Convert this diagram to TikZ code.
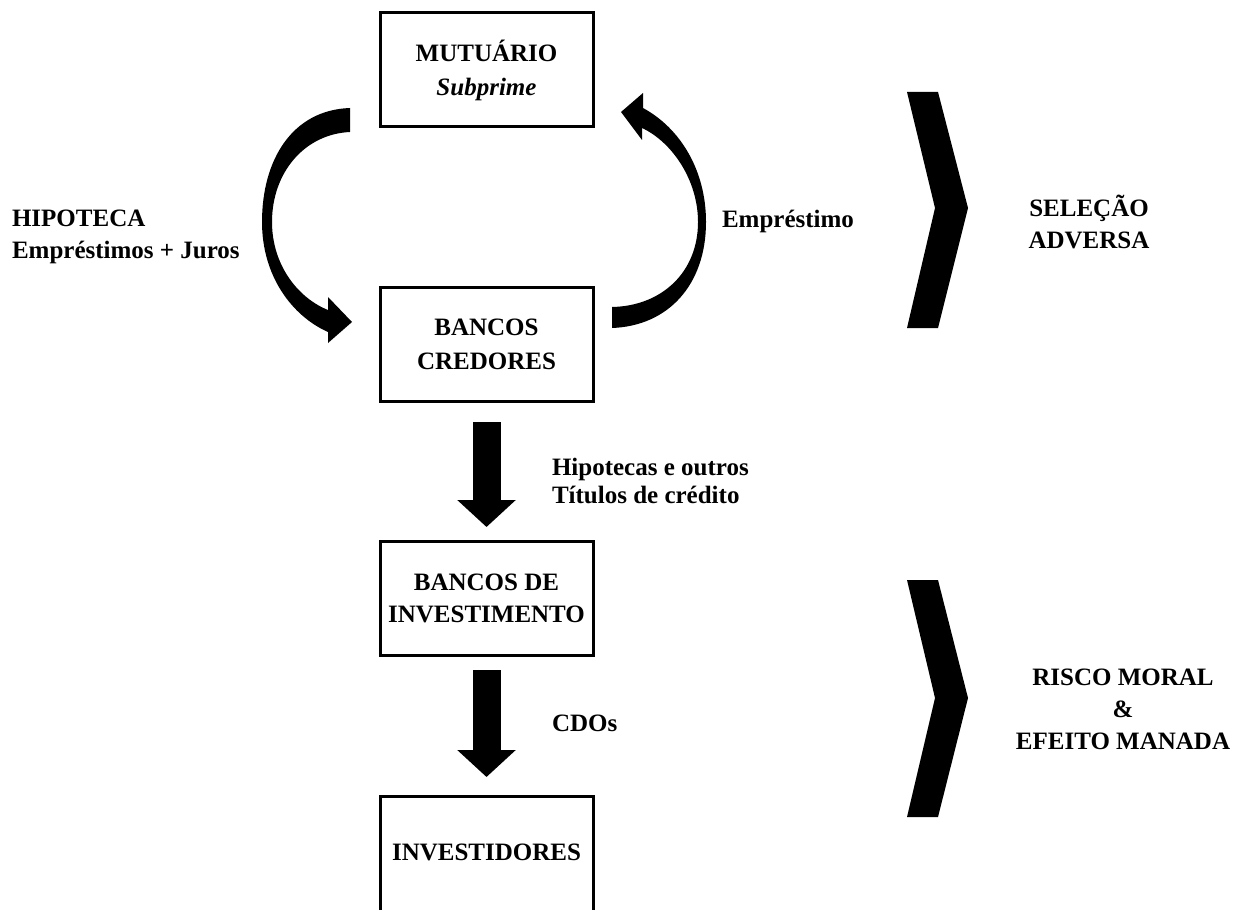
\documentclass[tikz,border=0pt]{standalone}
\usepackage{fontspec}
\setmainfont{Liberation Serif}
\usetikzlibrary{arrows.meta}
\begin{document}
\begin{tikzpicture}
    [
        x = 0.5pt, y = -0.5pt,
        every node/.style = {font=\bfseries\fontsize{12.5}{16}\selectfont,
            align=center, inner sep=0pt, outer sep=0pt},
        caixa/.style = {draw, line width=1.5pt,
            minimum width=106.5pt, minimum height=57pt},
        seta/.style = {line width=14pt,
            -{Triangle[width=28.5pt, length=13.5pt]}},
        forma/.style = {fill=black}
    ]
    \useasboundingbox (0,0) rectangle (1251,909);
    \clip (0,0) rectangle (1251,909);

    \node[caixa] (mutuario) at (486.5,70) {MUTUÁRIO\\[1pt]\textit{Subprime}};
    \node[caixa] (credores) at (486.5,344) {BANCOS\\[1pt]CREDORES};
    \node[caixa] (investimento) at (486.5,598) {BANCOS DE\\INVESTIMENTO};
    \node[caixa, minimum height=66pt] (investidores) at (486.5,862)
        {\raisebox{10pt}{INVESTIDORES}};

    \node[anchor=west, align=left] (hipoteca) at (12,237)
        {HIPOTECA\\Empréstimos + Juros};
    \node[anchor=west] (emprestimo) at (722,221) {Empréstimo};
    \node[anchor=west, align=left] (titulos) at (552,481)
        {Hipotecas e outros\\[-2pt]Títulos de crédito};
    \node[anchor=west] (cdos) at (552,723) {CDOs};
    \node (selecao) at (1089,222) {SELEÇÃO\\ADVERSA};
    \node (risco) at (1123,709) {RISCO MORAL\\\&\\EFEITO MANADA};

    \draw[seta, shorten <=10.5pt, shorten >=7pt] (credores) -- (investimento);
    \draw[seta, shorten <=7.5pt, shorten >=9.5pt] (investimento) -- (investidores);

    \fill[forma] (350,108) .. controls (292,110) and (262,160) .. (262,222)
        .. controls (262,276) and (292,316) .. (328,332)
        -- (328,343) -- (352,322) -- (328,297) -- (328,310)
        .. controls (298,298) and (272,265) .. (272,222)
        .. controls (272,172) and (305,134) .. (350,132) -- cycle;
    \fill[forma] (612,328) .. controls (668,326) and (706,285) .. (706,222)
        .. controls (706,170) and (680,128) .. (643,108)
        -- (643,93) -- (621,112) -- (642,140) -- (642,128)
        .. controls (672,142) and (698,180) .. (698,222)
        .. controls (698,272) and (662,306) .. (612,307) -- cycle;

    \fill[forma] (907,92) -- (938,92) -- (968,208) -- (938,328)
        -- (907,328) -- (935,208) -- cycle;
    \fill[forma] (907,580) -- (938,580) -- (968,698) -- (938,817)
        -- (907,817) -- (935,698) -- cycle;
\end{tikzpicture}
\end{document}
